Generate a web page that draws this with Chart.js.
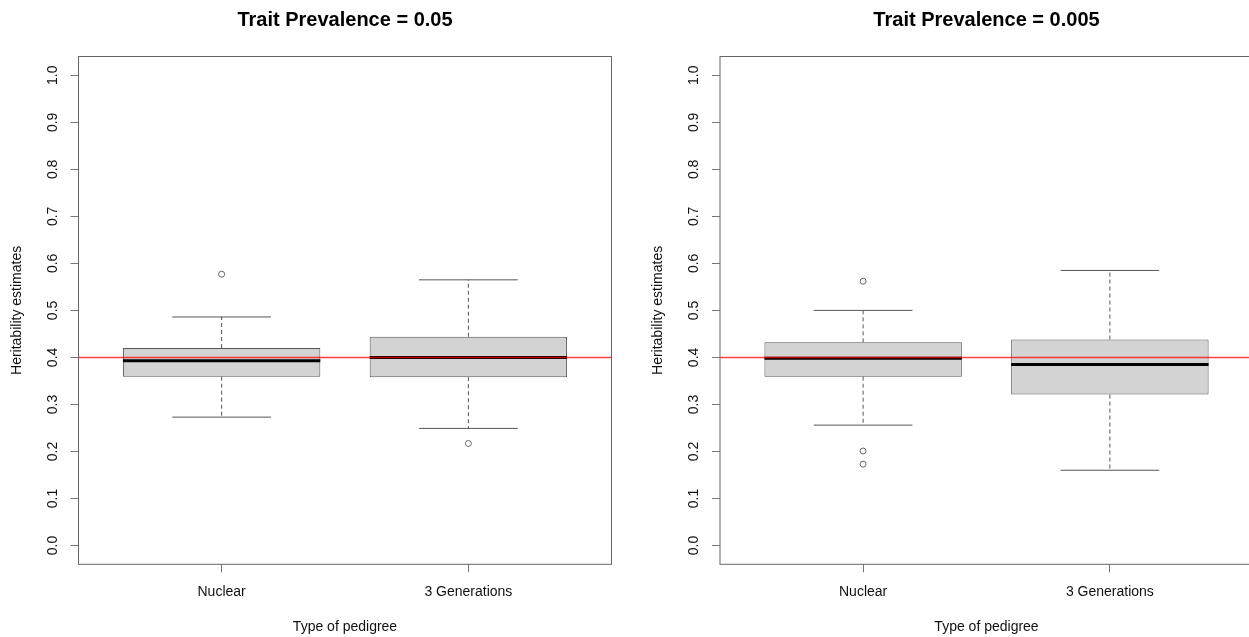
<!DOCTYPE html>
<html>
<head>
<meta charset="utf-8">
<script src="https://cdn.jsdelivr.net/npm/chart.js"></script>
<style>
  html, body { margin: 0; padding: 0; background: #fff; }
  body { width: 1249px; height: 637px; overflow: hidden; position: relative; }
  .panel { position: absolute; top: 0; }
</style>
</head>
<body>
<div class="panel" style="left:0px"><canvas id="chartA" width="624" height="637"></canvas></div>
<div class="panel" style="left:624px"><canvas id="chartB" width="640" height="637"></canvas></div>
<script>
// data
const categories = ['Nuclear', '3 Generations'];
const catPos = [1, 2];
const yTicks = [0, 0.1, 0.2, 0.3, 0.4, 0.5, 0.6, 0.7, 0.8, 0.9, 1.0];
const yTickLabels = ['0.0', '0.1', '0.2', '0.3', '0.4', '0.5', '0.6', '0.7', '0.8', '0.9', '1.0'];
const trueH2 = 0.4;

// Trait Prevalence = 0.05
const lowA = [0.273, 0.249];
const q1A = [0.359, 0.358];
const medA = [0.393, 0.400];
const q3A = [0.420, 0.444];
const highA = [0.486, 0.565];
const outA = [[0.577], [0.217]];

// Trait Prevalence = 0.005
const lowB = [0.256, 0.160];
const q1B = [0.359, 0.321];
const medB = [0.398, 0.385];
const q3B = [0.432, 0.438];
const highB = [0.500, 0.585];
const outB = [[0.562, 0.201, 0.173], []];

// R style axis ranges (4% extension)
const xMin = 0.42, xMax = 2.58;
const yMin = -0.04, yMax = 1.04;
const boxHalf = 0.4;
const capHalf = 0.2;

Chart.defaults.font.family = "'Liberation Sans', Arial, sans-serif";
Chart.defaults.color = '#111';

const framePlugin = {
    id: 'frame',
    afterDatasetsDraw(chart) {
        const a = chart.chartArea;
        const ctx = chart.ctx;
        ctx.save();
        ctx.strokeStyle = '#666';
        ctx.lineWidth = 1;
        ctx.strokeRect(a.left, a.top, a.right - a.left, a.bottom - a.top);
        ctx.restore();
    }
};

function makeChart(id, title, low, q1, med, q3, high, outs, padLeft, padRight) {
    const boxes = [], medians = [], whiskers = [], caps = [], points = [];
    catPos.forEach((c, i) => {
        boxes.push({x: c, y: [q1[i], q3[i]]});
        medians.push({x: c - boxHalf, y: med[i]}, {x: c + boxHalf, y: med[i]}, {x: c + 0.5, y: null});
        whiskers.push({x: c, y: q3[i]}, {x: c, y: high[i]}, {x: c, y: null});
        whiskers.push({x: c, y: q1[i]}, {x: c, y: low[i]}, {x: c, y: null});
        caps.push({x: c - capHalf, y: high[i]}, {x: c + capHalf, y: high[i]}, {x: c, y: null});
        caps.push({x: c - capHalf, y: low[i]}, {x: c + capHalf, y: low[i]}, {x: c, y: null});
        outs[i].forEach(v => points.push({x: c, y: v}));
    });

    const ctx = document.getElementById(id);
    new Chart(ctx, {
        type: 'scatter',
        data: {
            datasets: [
                {
                    type: 'line', order: 0,
                    data: [{x: xMin, y: trueH2}, {x: xMax, y: trueH2}],
                    borderColor: 'rgba(255,0,0,0.75)', borderWidth: 1.5,
                    pointRadius: 0, fill: false
                },
                {
                    type: 'scatter', order: 1,
                    data: points,
                    pointRadius: 3, pointBorderWidth: 1,
                    pointBorderColor: '#666', pointBackgroundColor: 'rgba(255,255,255,0)'
                },
                {
                    type: 'line', order: 2,
                    data: medians,
                    borderColor: '#000', borderWidth: 3,
                    pointRadius: 0, fill: false, spanGaps: false
                },
                {
                    type: 'line', order: 3,
                    data: caps,
                    borderColor: '#555', borderWidth: 1,
                    pointRadius: 0, fill: false, spanGaps: false
                },
                {
                    type: 'line', order: 4,
                    data: whiskers,
                    borderColor: '#555', borderWidth: 1, borderDash: [4, 3],
                    pointRadius: 0, fill: false, spanGaps: false
                },
                {
                    type: 'bar', order: 5,
                    data: boxes,
                    backgroundColor: '#d3d3d3', borderColor: '#555',
                    borderWidth: 1, borderSkipped: false,
                    barPercentage: 0.8, categoryPercentage: 1
                }
            ]
        },
        options: {
            responsive: false,
            animation: false,
            layout: { padding: { left: padLeft, right: padRight, top: 0, bottom: 0 } },
            plugins: {
                legend: { display: false },
                tooltip: { enabled: false },
                title: {
                    display: true, text: title, fullSize: false,
                    color: '#000',
                    font: { size: 20, weight: 'bold' },
                    padding: { top: 8, bottom: 24.5 }
                }
            },
            scales: {
                x: {
                    type: 'linear', min: xMin, max: xMax, offset: false,
                    afterBuildTicks: s => { s.ticks = catPos.map(v => ({value: v})); },
                    afterFit: s => { s.height = 72.7; },
                    ticks: {
                        padding: 11, font: { size: 14 }, color: '#111',
                        maxRotation: 0, autoSkip: false,
                        callback: (v, i) => categories[i]
                    },
                    grid: { display: true, drawOnChartArea: false, drawTicks: true, tickLength: 8, color: '#777', offset: false },
                    border: { display: false },
                    title: { display: true, text: 'Type of pedigree', font: { size: 14 }, color: '#111', padding: { top: 0, bottom: 1.6 } }
                },
                y: {
                    type: 'linear', min: yMin, max: yMax,
                    afterBuildTicks: s => { s.ticks = yTicks.map(v => ({value: v})); },
                    afterFit: s => { s.width = 78.5; },
                    ticks: {
                        minRotation: 90, maxRotation: 90, crossAlign: 'center',
                        padding: 8, font: { size: 14 }, color: '#111',
                        callback: (v, i) => yTickLabels[i]
                    },
                    grid: { display: true, drawOnChartArea: false, drawTicks: true, tickLength: 8, color: '#777' },
                    border: { display: false },
                    title: { display: true, text: 'Heritability estimates', font: { size: 14 }, color: '#111', padding: { top: 8.6, bottom: 0 } }
                }
            }
        },
        plugins: [framePlugin]
    });
}

makeChart('chartA', 'Trait Prevalence = 0.05', lowA, q1A, medA, q3A, highA, outA, 0, 12.5);
makeChart('chartB', 'Trait Prevalence = 0.005', lowB, q1B, medB, q3B, highB, outB, 17.5, 11);
</script>
</body>
</html>
